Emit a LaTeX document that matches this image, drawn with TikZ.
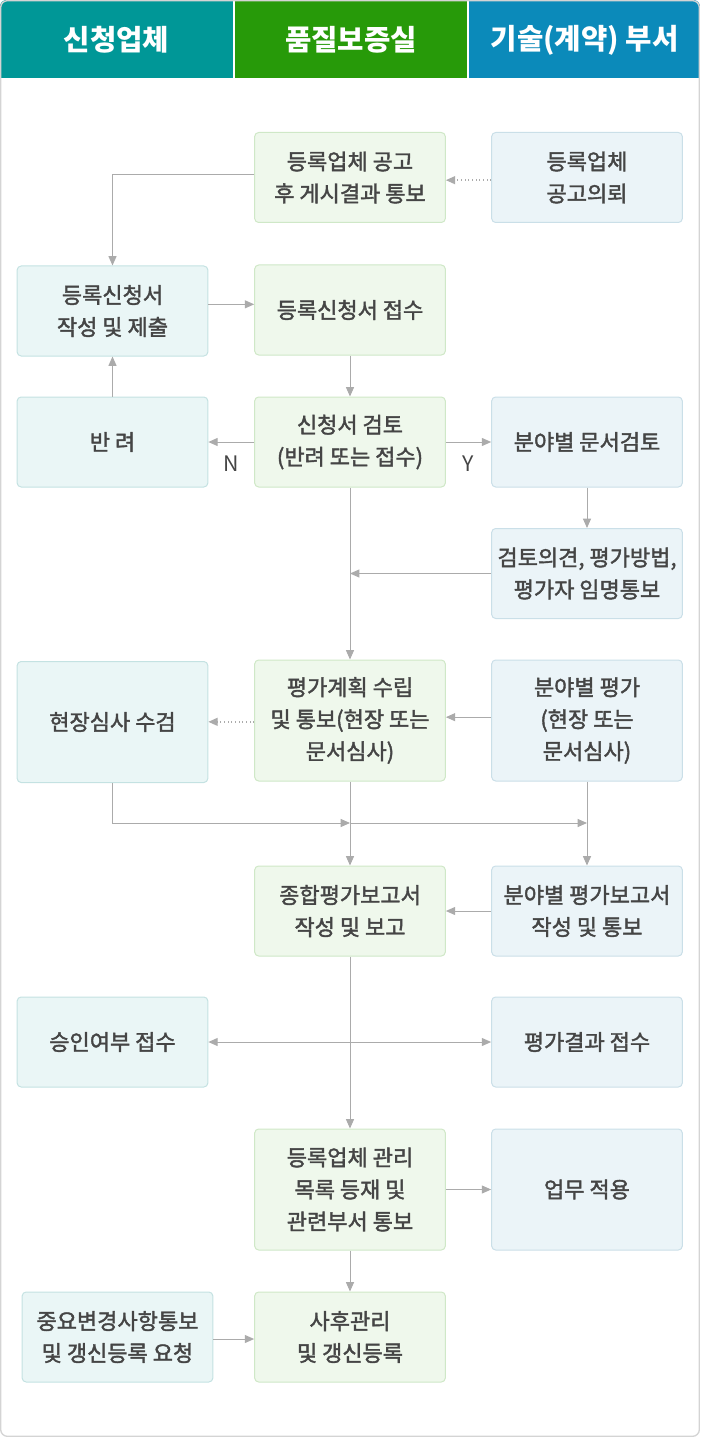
\documentclass[tikz,border=0pt]{standalone}
\usepackage{fontspec}
\setmainfont{Noto Sans CJK KR}
\newfontfamily\boxfont[FakeBold=1.8]{Noto Sans CJK KR}
\usetikzlibrary{arrows.meta,positioning}
\definecolor{colorapp}{HTML}{009797}
\definecolor{colorqa}{HTML}{279A09}
\definecolor{colordept}{HTML}{0B8ABA}
\definecolor{colorappfill}{HTML}{EAF6F6}
\definecolor{colorappline}{HTML}{C4E2E2}
\definecolor{colorqafill}{HTML}{EFF8EC}
\definecolor{colorqaline}{HTML}{CFE8C7}
\definecolor{colordeptfill}{HTML}{EBF4F8}
\definecolor{colordeptline}{HTML}{CADFE8}
\definecolor{colortext}{HTML}{454545}
\definecolor{colorarrow}{HTML}{ABABAB}
\definecolor{colorframe}{HTML}{D4D4D4}
\tikzstyle{header}=[text=white, font=\fontsize{21.5}{24}\selectfont\bfseries]
\tikzstyle{box}=[rectangle, rounded corners=3pt, line width=0.75pt, minimum width=143pt, minimum height=67.5pt, inner sep=1pt, align=center, text=colortext, font=\boxfont\fontsize{16.5}{24}\selectfont]
\tikzstyle{applicant}=[box, draw=colorappline, fill=colorappfill]
\tikzstyle{quality}=[box, draw=colorqaline, fill=colorqafill]
\tikzstyle{dept}=[box, draw=colordeptline, fill=colordeptfill]
\tikzstyle{tall}=[minimum height=90.75pt]
\tikzstyle{flow}=[draw=colorarrow, line width=0.75pt, ->]
\tikzstyle{notice}=[flow, dotted, line width=1pt]
\tikzstyle{answer}=[text=colortext, font=\fontsize{16}{18}\selectfont]

\begin{document}
\begin{tikzpicture}[x=0.75pt, y=-0.75pt, >={Triangle[length=7pt, width=6pt]}]

		\useasboundingbox (0,0) rectangle (700,1437);

		% column headers
		\begin{scope}
		\clip[rounded corners=5pt] (0,0) rectangle (700,1437);
		\fill[colorapp] (0,0) rectangle (233,78);
		\fill[colorqa] (235,0) rectangle (467,78);
		\fill[colordept] (469,0) rectangle (700,78);
		\end{scope}
		\draw[colorframe, line width=1pt, rounded corners=5pt] (0.7,0.7) rectangle (699.3,1436.3);

		\node[header] at (116.5, 40) (h1) {신청업체};
		\node[header] at (351, 40) (h2) {품질보증실};
		\node[header] at (584.5, 40) (h3) {기술(계약) 부서};

		\node[quality] at (350, 177.5) (q1) {등록업체 공고\\후 게시결과 통보};
		\node[dept] at (587, 177.5) (t1) {등록업체\\공고의뢰};

		\node[applicant] at (112.5, 311) (a2) {등록신청서\\작성 및 제출};
		\node[quality] at (350, 310) (q2) {등록신청서 접수};

		\node[applicant] at (112.5, 442) (a3) {반 려};
		\node[quality] at (350, 442) (q3) {신청서 검토\\(반려 또는 접수)};
		\node[dept] at (587, 442) (t3) {분야별 문서검토};

		\node[dept] at (587, 573.5) (t4) {검토의견, 평가방법,\\평가자 임명통보};

		\node[applicant, tall] at (112.5, 722) (a5) {현장심사 수검};
		\node[quality, tall] at (350, 720.5) (q5) {평가계획 수립\\및 통보(현장 또는\\문서심사)};
		\node[dept, tall] at (587, 720.5) (t5) {분야별 평가\\(현장 또는\\문서심사)};

		\node[quality] at (350, 911) (q6) {종합평가보고서\\작성 및 보고};
		\node[dept] at (587, 911) (t6) {분야별 평가보고서\\작성 및 통보};

		\node[applicant] at (112.5, 1042) (a7) {승인여부 접수};
		\node[dept] at (587, 1042) (t7) {평가결과 접수};

		\node[quality, tall] at (350, 1189.5) (q8) {등록업체 관리\\목록 등재 및\\관련부서 통보};
		\node[dept, tall] at (587, 1189.5) (t8) {업무 적용};

		\node[applicant] at (117.5, 1337) (a9) {중요변경사항통보\\및 갱신등록 요청};
		\node[quality] at (350, 1337) (q9) {사후관리\\및 갱신등록};

		\coordinate (mergey) at (0, 823);
		\coordinate (merge) at (t5.south |- mergey);

		\draw[notice] ([yshift=-2pt]t1.west) -- ([yshift=-2pt]t1.west -| q1.east);
		\draw[flow] ([yshift=2.5pt]q1.west) -| (a2.north);
		\draw[flow] ([yshift=5pt]a2.east) -- ([yshift=5pt]a2.east -| q2.west);
		\path (q2) edge[flow] (q3);
		\path (a3) edge[flow] (a2);
		\path (q3) edge[flow] node[answer, below=7pt] {N} (a3);
		\path (q3) edge[flow] node[answer, below=7pt] {Y} (t3);
		\path (t3) edge[flow] (t4);
		\draw[flow] (t4.west) -- (t4.west -| q3.south);
		\path (q3) edge[flow] (q5);
		\draw[flow] ([yshift=2.5pt]t5.west) -- ([yshift=2.5pt]t5.west -| q5.east);
		\draw[notice] ([yshift=-1pt]q5.west) -- ([yshift=-1pt]q5.west -| a5.east);
		\draw[flow] (a5.south) |- (q5.south |- merge);
		\draw[flow] (q5.south |- merge) -- (merge);
		\path (q5) edge[flow] (q6);
		\path (t5) edge[flow] (t6);
		\path (t6) edge[flow] (q6);
		\draw[flow, <->] (a7) -- (t7);
		\path (q6) edge[flow] (q8);
		\path (q8) edge[flow] (t8);
		\path (q8) edge[flow] (q9);
		\draw[flow] ([yshift=-1.5pt]a9.east) -- ([yshift=-1.5pt]a9.east -| q9.west);

\end{tikzpicture}
\end{document}
